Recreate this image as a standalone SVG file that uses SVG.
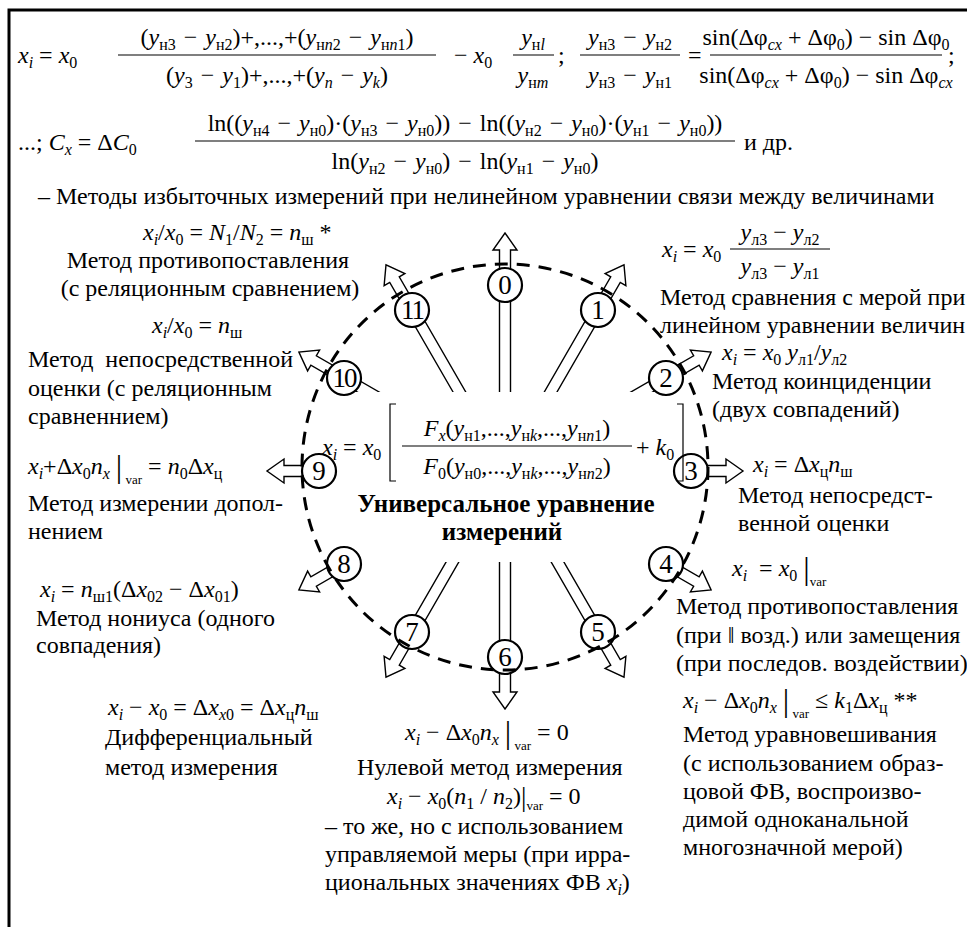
<svg xmlns="http://www.w3.org/2000/svg" width="967" height="927" viewBox="0 0 967 927">
<defs>
<style>
text{font-family:"Liberation Serif","Times New Roman",serif;fill:#000;}
.t{font-size:24px;}
.m{font-size:24px;}
.i{font-style:italic;}
.sb{font-size:16px;}
.vs{font-size:13px;font-style:normal;}
.vbar{font-size:32px;font-style:normal;}
.vbar2{font-size:27px;font-style:normal;}
.c{text-anchor:middle;}
.b{font-weight:bold;font-size:25px;text-anchor:middle;}
.nd{font-size:27px;text-anchor:middle;}
.bar{stroke:#000;stroke-width:1.2;fill:none;}
.arr{fill:#fff;stroke:#000;stroke-width:1.4;stroke-linejoin:miter;}
.ring{fill:#fff;stroke:#000;stroke-width:2.2;}
.dash{fill:none;stroke:#000;stroke-width:3;stroke-dasharray:13 9;}
.pre{white-space:pre;}
</style>
<polygon id="arrow" class="arr" points="-5.5,0 -5.5,-221 -12,-221 0,-238 12,-221 5.5,-221 5.5,0"/>
</defs>
<rect width="967" height="927" fill="#fff"/>
<path d="M9 927V10H967" fill="none" stroke="#000" stroke-width="3"/>

<g id="connectors">
<use href="#arrow" transform="translate(505 471) rotate(0)"/>
<use href="#arrow" transform="translate(505 471) rotate(30)"/>
<use href="#arrow" transform="translate(505 471) rotate(60)"/>
<use href="#arrow" transform="translate(505 471) rotate(90)"/>
<use href="#arrow" transform="translate(505 471) rotate(120)"/>
<use href="#arrow" transform="translate(505 471) rotate(150)"/>
<use href="#arrow" transform="translate(505 471) rotate(180)"/>
<use href="#arrow" transform="translate(505 471) rotate(210)"/>
<use href="#arrow" transform="translate(505 471) rotate(240)"/>
<use href="#arrow" transform="translate(505 471) rotate(270)"/>
<use href="#arrow" transform="translate(505 471) rotate(300)"/>
<use href="#arrow" transform="translate(505 471) rotate(330)"/>
<rect x="318" y="392" width="374" height="170" fill="#fff"/>
</g>

<g id="badges">
<g id="badge-0"><circle class="ring" cx="505" cy="285" r="17"/><text class="nd" x="505" y="294">0</text></g>
<g id="badge-1"><circle class="ring" cx="598" cy="310" r="17"/><text class="nd" x="598" y="319">1</text></g>
<g id="badge-2"><circle class="ring" cx="666" cy="378" r="17"/><text class="nd" x="666" y="387">2</text></g>
<g id="badge-3"><circle class="ring" cx="691" cy="471" r="17"/><text class="nd" x="691" y="480">3</text></g>
<g id="badge-4"><circle class="ring" cx="666" cy="564" r="17"/><text class="nd" x="666" y="573">4</text></g>
<g id="badge-5"><circle class="ring" cx="598" cy="632" r="17"/><text class="nd" x="598" y="641">5</text></g>
<g id="badge-6"><circle class="ring" cx="505" cy="657" r="17"/><text class="nd" x="505" y="666">6</text></g>
<g id="badge-7"><circle class="ring" cx="412" cy="632" r="17"/><text class="nd" x="412" y="641">7</text></g>
<g id="badge-8"><circle class="ring" cx="344" cy="564" r="17"/><text class="nd" x="344" y="573">8</text></g>
<g id="badge-9"><circle class="ring" cx="319" cy="471" r="17"/><text class="nd" x="319" y="480">9</text></g>
<g id="badge-10"><circle class="ring" cx="344" cy="378" r="17"/><text class="nd" x="344" y="387" letter-spacing="-2">10</text></g>
<g id="badge-11"><circle class="ring" cx="412" cy="310" r="17"/><text class="nd" x="412" y="319" letter-spacing="-2">11</text></g>
</g>

<circle id="boundary" class="dash" cx="505" cy="467" r="203"/>

<g id="hub">
<text class="m" x="322" y="455"><tspan class="i">x</tspan><tspan class="sb i" dy="5">i</tspan><tspan dy="-5"> = </tspan><tspan class="i">x</tspan><tspan class="sb" dy="5">0</tspan></text>
<path class="bar" d="M396 404H390V481H396M677 404H683V481H677"/>
<text class="m c" x="517" y="436"><tspan class="i">F</tspan><tspan class="sb i" dy="5">x</tspan><tspan dy="-5">(</tspan><tspan class="i">y</tspan><tspan class="sb" dy="5">н1</tspan><tspan dy="-5">,...,</tspan><tspan class="i">y</tspan><tspan class="sb" dy="5">н<tspan class="i">k</tspan></tspan><tspan dy="-5">,...,</tspan><tspan class="i">y</tspan><tspan class="sb" dy="5">н<tspan class="i">n</tspan>1</tspan><tspan dy="-5">)</tspan></text>
<line class="bar" x1="402" y1="446" x2="632" y2="446"/>
<text class="m c" x="517" y="474"><tspan class="i">F</tspan><tspan class="sb" dy="5">0</tspan><tspan dy="-5">(</tspan><tspan class="i">y</tspan><tspan class="sb" dy="5">н0</tspan><tspan dy="-5">,...,</tspan><tspan class="i">y</tspan><tspan class="sb" dy="5">н<tspan class="i">k</tspan></tspan><tspan dy="-5">,...,</tspan><tspan class="i">y</tspan><tspan class="sb" dy="5">н<tspan class="i">n</tspan>2</tspan><tspan dy="-5">)</tspan></text>
<text class="m" x="636" y="455">+ <tspan class="i">k</tspan><tspan class="sb" dy="5">0</tspan></text>
<text class="b" x="506" y="512">Универсальное уравнение</text>
<text class="b" x="502" y="540">измерений</text>
</g>

<g id="method-0">
<text class="m" x="18" y="63"><tspan class="i">x</tspan><tspan class="sb i" dy="5">i</tspan><tspan dy="-5"> = </tspan><tspan class="i">x</tspan><tspan class="sb" dy="5">0</tspan></text>
<text class="m c" x="277" y="45">(<tspan class="i">y</tspan><tspan class="sb" dy="5">н3</tspan><tspan dy="-5">&#8196;−&#8196;</tspan><tspan class="i">y</tspan><tspan class="sb" dy="5">н2</tspan><tspan dy="-5">)+,...,+(</tspan><tspan class="i">y</tspan><tspan class="sb" dy="5">н<tspan class="i">n</tspan>2</tspan><tspan dy="-5">&#8196;−&#8196;</tspan><tspan class="i">y</tspan><tspan class="sb" dy="5">н<tspan class="i">n</tspan>1</tspan><tspan dy="-5">)</tspan></text>
<line class="bar" x1="118" y1="55" x2="436" y2="55"/>
<text class="m c" x="277" y="83">(<tspan class="i">y</tspan><tspan class="sb" dy="5">3</tspan><tspan dy="-5">&#8196;−&#8196;</tspan><tspan class="i">y</tspan><tspan class="sb" dy="5">1</tspan><tspan dy="-5">)+,...,+(</tspan><tspan class="i">y</tspan><tspan class="sb i" dy="5">n</tspan><tspan dy="-5">&#8196;−&#8196;</tspan><tspan class="i">y</tspan><tspan class="sb i" dy="5">k</tspan><tspan dy="-5">)</tspan></text>
<text class="m" x="454" y="63">− <tspan class="i">x</tspan><tspan class="sb" dy="5">0</tspan></text>
<text class="m c" x="533" y="45"><tspan class="i">y</tspan><tspan class="sb" dy="5">н<tspan class="i">l</tspan></tspan></text>
<line class="bar" x1="513" y1="55" x2="554" y2="55"/>
<text class="m c" x="533" y="83"><tspan class="i">y</tspan><tspan class="sb" dy="5">н<tspan class="i">m</tspan></tspan></text>
<text class="m" x="558" y="63">;</text>
<text class="m c" x="630" y="45"><tspan class="i">y</tspan><tspan class="sb" dy="5">н3</tspan><tspan dy="-5">&#8196;−&#8196;</tspan><tspan class="i">y</tspan><tspan class="sb" dy="5">н2</tspan></text>
<line class="bar" x1="580" y1="55" x2="680" y2="55"/>
<text class="m c" x="630" y="83"><tspan class="i">y</tspan><tspan class="sb" dy="5">н3</tspan><tspan dy="-5">&#8196;−&#8196;</tspan><tspan class="i">y</tspan><tspan class="sb" dy="5">н1</tspan></text>
<text class="m" x="688" y="63">=</text>
<text class="m c" x="826" y="45">sin(Δφ<tspan class="sb i" dy="5">cx</tspan><tspan dy="-5"> + Δφ</tspan><tspan class="sb" dy="5">0</tspan><tspan dy="-5">) − sin Δφ</tspan><tspan class="sb" dy="5">0</tspan></text>
<line class="bar" x1="710" y1="55" x2="942" y2="55"/>
<text class="m c" x="826" y="83">sin(Δφ<tspan class="sb i" dy="5">cx</tspan><tspan dy="-5"> + Δφ</tspan><tspan class="sb" dy="5">0</tspan><tspan dy="-5">) − sin Δφ</tspan><tspan class="sb i" dy="5">cx</tspan></text>
<text class="m" x="948" y="63">;</text>
<text class="m" x="18" y="150">...; <tspan class="i">C</tspan><tspan class="sb i" dy="5">x</tspan><tspan dy="-5"> = Δ</tspan><tspan class="i">C</tspan><tspan class="sb" dy="5">0</tspan></text>
<text class="m c" x="465" y="131">ln((<tspan class="i">y</tspan><tspan class="sb" dy="5">н4</tspan><tspan dy="-5">&#8196;−&#8196;</tspan><tspan class="i">y</tspan><tspan class="sb" dy="5">н0</tspan><tspan dy="-5">)·(</tspan><tspan class="i">y</tspan><tspan class="sb" dy="5">н3</tspan><tspan dy="-5">&#8196;−&#8196;</tspan><tspan class="i">y</tspan><tspan class="sb" dy="5">н0</tspan><tspan dy="-5">))&#8196;−&#8196;ln((</tspan><tspan class="i">y</tspan><tspan class="sb" dy="5">н2</tspan><tspan dy="-5">&#8196;−&#8196;</tspan><tspan class="i">y</tspan><tspan class="sb" dy="5">н0</tspan><tspan dy="-5">)·(</tspan><tspan class="i">y</tspan><tspan class="sb" dy="5">н1</tspan><tspan dy="-5">&#8196;−&#8196;</tspan><tspan class="i">y</tspan><tspan class="sb" dy="5">н0</tspan><tspan dy="-5">))</tspan></text>
<line class="bar" x1="195" y1="141" x2="735" y2="141"/>
<text class="m c" x="465" y="169">ln(<tspan class="i">y</tspan><tspan class="sb" dy="5">н2</tspan><tspan dy="-5">&#8196;−&#8196;</tspan><tspan class="i">y</tspan><tspan class="sb" dy="5">н0</tspan><tspan dy="-5">)&#8196;−&#8196;ln(</tspan><tspan class="i">y</tspan><tspan class="sb" dy="5">н1</tspan><tspan dy="-5">&#8196;−&#8196;</tspan><tspan class="i">y</tspan><tspan class="sb" dy="5">н0</tspan><tspan dy="-5">)</tspan></text>
<text class="t" x="744" y="150">и др.</text>
<text class="t" x="38" y="204">– Методы избыточных измерений при нелинейном уравнении связи между величинами</text>
</g>

<g id="method-1">
<text class="m" x="662" y="257"><tspan class="i">x</tspan><tspan class="sb i" dy="5">i</tspan><tspan dy="-5"> = </tspan><tspan class="i">x</tspan><tspan class="sb" dy="5">0</tspan></text>
<text class="m c" x="780" y="240"><tspan class="i">y</tspan><tspan class="sb" dy="5">л3</tspan><tspan dy="-5"> − </tspan><tspan class="i">y</tspan><tspan class="sb" dy="5">л2</tspan></text>
<line class="bar" x1="730" y1="249" x2="830" y2="249"/>
<text class="m c" x="780" y="274"><tspan class="i">y</tspan><tspan class="sb" dy="5">л3</tspan><tspan dy="-5"> − </tspan><tspan class="i">y</tspan><tspan class="sb" dy="5">л1</tspan></text>
<text class="t" x="660" y="305">Метод сравнения с мерой при</text>
<text class="t" x="660" y="333">линейном уравнении величин</text>
</g>

<g id="method-2">
<text class="m" x="722" y="360"><tspan class="i">x</tspan><tspan class="sb i" dy="5">i</tspan><tspan dy="-5"> = </tspan><tspan class="i">x</tspan><tspan class="sb" dy="5">0</tspan><tspan dy="-5"> </tspan><tspan class="i">y</tspan><tspan class="sb" dy="5">л1</tspan><tspan dy="-5">/</tspan><tspan class="i">y</tspan><tspan class="sb" dy="5">л2</tspan></text>
<text class="t" x="712" y="389">Метод коинциденции</text>
<text class="t" x="712" y="417">(двух совпадений)</text>
</g>

<g id="method-3">
<text class="m" x="753" y="472"><tspan class="i">x</tspan><tspan class="sb i" dy="5">i</tspan><tspan dy="-5"> = Δ</tspan><tspan class="i">x</tspan><tspan class="sb" dy="5">ц</tspan><tspan dy="-5" class="i">n</tspan><tspan class="sb" dy="5">ш</tspan></text>
<text class="t" x="738" y="503">Метод непосредст-</text>
<text class="t" x="738" y="531">венной оценки</text>
</g>

<g id="method-4">
<text class="m pre" x="732" y="576"><tspan class="i">x</tspan><tspan class="sb i" dy="5">i</tspan><tspan dy="-5">  = </tspan><tspan class="i">x</tspan><tspan class="sb" dy="5">0</tspan><tspan dy="-5"> </tspan><tspan class="vbar" dy="3">|</tspan><tspan class="vs" dy="7">var</tspan></text>
<text class="t" x="676" y="614">Метод противопоставления</text>
<text class="t" x="676" y="643">(при ‖ возд.) или замещения</text>
<text class="t" x="676" y="671">(при последов. воздействии)</text>
</g>

<g id="method-5">
<text class="m" x="683" y="708"><tspan class="i">x</tspan><tspan class="sb i" dy="5">i</tspan><tspan dy="-5"> − Δ</tspan><tspan class="i">x</tspan><tspan class="sb" dy="5">0</tspan><tspan dy="-5" class="i">n</tspan><tspan class="sb i" dy="5">x</tspan><tspan dy="-5"> </tspan><tspan class="vbar" dy="3">|</tspan><tspan class="vs" dy="7"> var</tspan><tspan dy="-10"> ≤ </tspan><tspan class="i">k</tspan><tspan class="sb" dy="5">1</tspan><tspan dy="-5">Δ</tspan><tspan class="i">x</tspan><tspan class="sb" dy="5">ц</tspan><tspan dy="-5"> **</tspan></text>
<text class="t" x="683" y="742">Метод уравновешивания</text>
<text class="t" x="683" y="771">(с использованием образ-</text>
<text class="t" x="683" y="799">цовой ФВ, воспроизво-</text>
<text class="t" x="683" y="827">димой одноканальной</text>
<text class="t" x="683" y="855">многозначной мерой)</text>
</g>

<g id="method-6">
<text class="m" x="405" y="740"><tspan class="i">x</tspan><tspan class="sb i" dy="5">i</tspan><tspan dy="-5"> − Δ</tspan><tspan class="i">x</tspan><tspan class="sb" dy="5">0</tspan><tspan dy="-5" class="i">n</tspan><tspan class="sb i" dy="5">x</tspan><tspan dy="-5"> </tspan><tspan class="vbar" dy="3">|</tspan><tspan class="vs" dy="7"> var</tspan><tspan dy="-10"> = 0</tspan></text>
<text class="t" x="357" y="775">Нулевой метод измерения</text>
<text class="m" x="387" y="804"><tspan class="i">x</tspan><tspan class="sb i" dy="5">i</tspan><tspan dy="-5"> − </tspan><tspan class="i">x</tspan><tspan class="sb" dy="5">0</tspan><tspan dy="-5">(</tspan><tspan class="i">n</tspan><tspan class="sb" dy="5">1</tspan><tspan dy="-5"> / </tspan><tspan class="i">n</tspan><tspan class="sb" dy="5">2</tspan><tspan dy="-5">)</tspan><tspan class="vbar2" dy="2">|</tspan><tspan class="vs" dy="4">var</tspan><tspan dy="-6"> = 0</tspan></text>
<text class="t" x="325" y="834">– то же, но с использованием</text>
<text class="t" x="325" y="862">управляемой меры (при ирра-</text>
<text class="t" x="325" y="890">циональных значениях ФВ <tspan class="i">x</tspan><tspan class="sb i" dy="5">i</tspan><tspan dy="-5">)</tspan></text>
</g>

<g id="method-7">
<text class="m" x="108" y="715"><tspan class="i">x</tspan><tspan class="sb i" dy="5">i</tspan><tspan dy="-5"> − </tspan><tspan class="i">x</tspan><tspan class="sb" dy="5">0</tspan><tspan dy="-5"> = Δ</tspan><tspan class="i">x</tspan><tspan class="sb" dy="5"><tspan class="i">x</tspan>0</tspan><tspan dy="-5"> = Δ</tspan><tspan class="i">x</tspan><tspan class="sb" dy="5">ц</tspan><tspan dy="-5" class="i">n</tspan><tspan class="sb" dy="5">ш</tspan></text>
<text class="t" x="105" y="745">Дифференциальный</text>
<text class="t" x="105" y="775">метод измерения</text>
</g>

<g id="method-8">
<text class="m" x="40" y="597"><tspan class="i">x</tspan><tspan class="sb i" dy="5">i</tspan><tspan dy="-5"> = </tspan><tspan class="i">n</tspan><tspan class="sb" dy="5">ш1</tspan><tspan dy="-5">(Δ</tspan><tspan class="i">x</tspan><tspan class="sb" dy="5">02</tspan><tspan dy="-5"> − Δ</tspan><tspan class="i">x</tspan><tspan class="sb" dy="5">01</tspan><tspan dy="-5">)</tspan></text>
<text class="t" x="36" y="626">Метод нониуса (одного</text>
<text class="t" x="36" y="653">совпадения)</text>
</g>

<g id="method-9">
<text class="m" x="28" y="474"><tspan class="i">x</tspan><tspan class="sb i" dy="5">i</tspan><tspan dy="-5">+Δ</tspan><tspan class="i">x</tspan><tspan class="sb" dy="5">0</tspan><tspan dy="-5" class="i">n</tspan><tspan class="sb i" dy="5">x</tspan><tspan dy="-5"> </tspan><tspan class="vbar" dy="3">|</tspan><tspan class="vs" dy="7"> var</tspan><tspan dy="-10"> = </tspan><tspan class="i">n</tspan><tspan class="sb" dy="5">0</tspan><tspan dy="-5">Δ</tspan><tspan class="i">x</tspan><tspan class="sb" dy="5">ц</tspan></text>
<text class="t" x="28" y="511">Метод измерении допол-</text>
<text class="t" x="28" y="539">нением</text>
</g>

<g id="method-10">
<text class="m" x="152" y="333"><tspan class="i">x</tspan><tspan class="sb i" dy="5">i</tspan><tspan dy="-5">/</tspan><tspan class="i">x</tspan><tspan class="sb" dy="5">0</tspan><tspan dy="-5"> = </tspan><tspan class="i">n</tspan><tspan class="sb" dy="5">ш</tspan></text>
<text class="t pre" x="28" y="367">Метод  непосредственной</text>
<text class="t" x="28" y="396">оценки (с реляционным</text>
<text class="t" x="28" y="424">сравненнием)</text>
</g>

<g id="method-11">
<text class="m" x="143" y="240"><tspan class="i">x</tspan><tspan class="sb i" dy="5">i</tspan><tspan dy="-5">/</tspan><tspan class="i">x</tspan><tspan class="sb" dy="5">0</tspan><tspan dy="-5"> = </tspan><tspan class="i">N</tspan><tspan class="sb" dy="5">1</tspan><tspan dy="-5">/</tspan><tspan class="i">N</tspan><tspan class="sb" dy="5">2</tspan><tspan dy="-5"> = </tspan><tspan class="i">n</tspan><tspan class="sb" dy="5">ш</tspan><tspan dy="-5"> *</tspan></text>
<text class="t c" x="208" y="268">Метод противопоставления</text>
<text class="t c" x="210" y="296">(с реляционным сравнением)</text>
</g>
</svg>
